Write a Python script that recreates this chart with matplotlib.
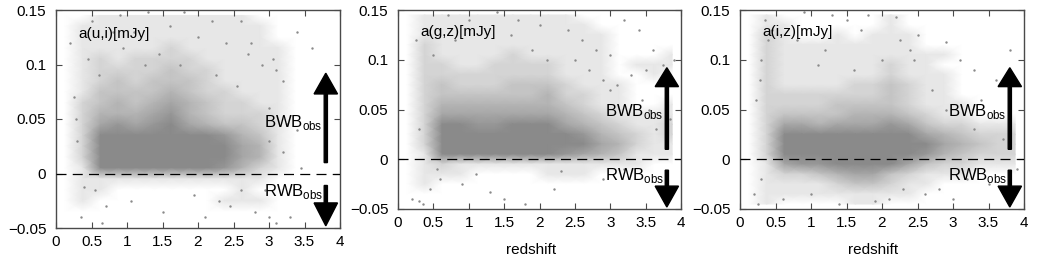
import numpy as np
import matplotlib
matplotlib.use("Agg")
import matplotlib.pyplot as plt
from matplotlib.colors import LinearSegmentedColormap, PowerNorm

plt.rcParams['font.family'] = ['Liberation Sans', 'DejaVu Sans']

# ---------------- data ----------------
# redshift bin centres and flux bin centres of the density grids
z_centers = [0.125, 0.375, 0.625, 0.875, 1.125, 1.375, 1.625, 1.875,
             2.125, 2.375, 2.625, 2.875, 3.125, 3.375, 3.625, 3.875]
flux_centers = [0.145, 0.135, 0.125, 0.115, 0.105, 0.095, 0.085, 0.075, 0.065, 0.055,
                0.045, 0.035, 0.025, 0.015, 0.005, -0.005, -0.015, -0.025, -0.035, -0.045]

# point density (0 = empty, 9 = saturated) for a(u,i)
density_ui = [
    [0,0,1,1,1,1,1,1,1,1,1,0,0,0,0,0],
    [0,1,1,1,1,1,1,1,1,1,1,1,0,0,0,0],
    [0,1,1,1,1,1,1,1,1,1,1,1,0,0,0,0],
    [0,1,1,1,1,1,2,1,1,1,1,1,1,0,0,0],
    [0,1,2,1,2,2,2,2,1,1,1,1,1,0,0,0],
    [0,1,2,2,2,2,3,2,2,1,1,1,1,0,0,0],
    [0,1,2,3,2,3,3,3,2,1,1,1,1,0,0,0],
    [0,1,3,3,3,3,4,3,2,2,1,1,1,0,0,0],
    [0,2,3,4,3,4,5,4,3,2,2,1,1,0,0,0],
    [0,2,4,4,4,5,6,4,3,2,2,2,1,0,0,0],
    [0,2,5,6,5,6,7,5,4,3,3,2,1,0,0,0],
    [0,2,7,8,8,8,8,8,7,6,4,3,1,0,0,0],
    [0,2,9,9,9,9,9,9,9,8,5,4,1,0,0,0],
    [0,2,9,9,9,9,9,9,9,8,5,4,1,0,0,0],
    [0,1,7,8,8,8,8,8,7,6,4,2,1,0,0,0],
    [0,1,1,1,1,1,1,1,1,1,1,1,0,0,0,0],
    [0,1,1,0,0,0,0,0,0,0,1,0,0,0,0,0],
    [0,1,0,0,0,0,0,0,0,1,1,1,0,0,0,0],
    [0,0,0,0,0,0,0,0,0,0,0,0,0,0,0,0],
    [0,0,0,0,0,0,0,0,0,0,0,0,0,0,0,0],
]

# point density for a(g,z)
density_gz = [
    [0,1,1,1,1,1,1,1,1,1,0,0,0,0,0,0],
    [0,1,1,1,1,1,1,1,1,1,1,0,0,0,0,0],
    [0,1,1,1,1,1,1,1,1,1,1,1,0,0,0,0],
    [0,2,1,1,1,1,1,1,1,1,1,1,0,0,0,0],
    [0,2,1,1,1,1,2,1,1,1,1,1,0,0,0,1],
    [0,2,2,1,1,2,2,2,2,1,1,1,0,1,1,1],
    [0,2,2,2,2,2,2,2,2,1,1,1,0,0,1,0],
    [0,2,3,2,2,2,3,3,3,2,1,1,1,0,0,0],
    [0,2,3,3,3,3,3,3,4,2,2,1,1,0,0,0],
    [0,2,4,4,4,4,4,4,4,3,2,1,1,0,0,1],
    [0,2,5,5,5,5,5,5,5,4,3,2,1,1,1,1],
    [0,2,7,7,6,6,7,7,7,5,4,3,2,1,1,2],
    [0,2,9,9,9,9,9,9,9,8,6,4,3,2,1,2],
    [0,2,9,9,9,9,9,9,9,8,7,5,4,2,1,1],
    [0,1,7,8,8,8,8,8,7,6,5,4,3,1,1,1],
    [0,1,2,1,1,1,1,1,1,1,1,1,1,1,0,0],
    [0,1,1,1,0,0,0,0,1,1,1,0,0,0,0,0],
    [0,1,0,0,0,0,0,0,0,0,0,0,0,0,0,0],
    [0,0,0,0,0,0,0,0,0,0,0,0,0,0,0,0],
    [0,0,0,0,0,0,0,0,0,0,0,0,0,0,0,0],
]

# point density for a(i,z)
density_iz = [
    [0,1,0,0,0,0,0,0,1,0,0,0,0,0,0,0],
    [0,1,1,0,0,0,0,0,1,0,0,0,0,0,0,0],
    [0,2,1,0,0,1,0,1,1,1,0,0,0,0,0,0],
    [0,2,1,1,1,1,1,1,1,1,0,0,0,0,0,0],
    [0,2,1,1,1,1,1,1,1,1,1,1,0,0,0,0],
    [0,2,1,1,1,1,1,1,2,1,1,0,0,0,0,0],
    [0,2,1,1,1,1,1,1,2,1,1,1,0,0,0,0],
    [0,2,1,1,1,1,2,2,3,2,1,1,0,0,0,0],
    [0,2,2,2,2,2,2,2,3,2,1,1,0,0,0,0],
    [0,2,2,2,2,3,3,3,3,2,1,1,1,0,0,0],
    [0,2,3,3,3,3,4,4,4,3,2,1,1,0,0,0],
    [0,2,5,5,4,5,5,5,6,5,3,2,2,1,1,1],
    [0,2,8,8,8,7,7,7,8,7,5,4,3,2,2,2],
    [0,2,9,9,9,9,9,9,9,9,7,5,4,3,2,2],
    [0,2,9,9,9,9,9,9,9,8,6,4,3,2,2,2],
    [0,1,5,6,6,7,8,8,7,5,3,2,2,1,1,1],
    [0,1,2,2,3,4,5,5,3,2,1,1,1,0,0,0],
    [0,1,1,1,1,2,3,3,2,1,1,0,0,0,0,0],
    [0,1,1,1,1,1,1,1,1,1,0,0,0,0,0,0],
    [0,1,0,0,0,0,1,1,0,0,0,0,0,0,0,0],
]

# isolated points in the sparse regions (redshift, flux)
outliers_ui_z = [0.2, 0.35, 0.65, 0.4, 0.55, 1.5, 2.3, 2.45, 2.8, 3.0, 3.3, 2.1, 3.4, 3.6,
                 3.2, 3.1, 3.0, 3.45, 3.2, 3.4, 3.0, 2.6, 2.2, 1.8, 1.3, 0.9, 0.5, 0.8,
                 1.1, 1.6, 2.0, 2.4, 2.75, 2.9, 3.05, 0.25, 0.3, 0.28, 0.7, 1.05, 1.95,
                 2.6, 2.95, 3.1, 0.45, 1.45, 1.75, 0.6, 2.25, 2.55, 3.25, 2.7, 1.25, 0.95]
outliers_ui_a = [0.12, -0.04, -0.045, -0.012, -0.015, -0.035, -0.025, -0.03, -0.035, -0.04,
                 -0.04, -0.04, 0.13, 0.115, 0.085, 0.095, 0.06, 0.005, 0.02, 0.04, 0.03,
                 0.14, 0.14, 0.148, 0.148, 0.145, 0.14, 0.13, 0.13, 0.135, 0.125, 0.12,
                 0.12, 0.1, 0.105, 0.07, 0.03, 0.05, -0.03, -0.025, -0.02, -0.015, -0.015,
                 -0.045, 0.105, 0.11, 0.1, 0.09, 0.09, 0.08, 0.045, 0.11, 0.1, 0.115]

outliers_gz_z = [0.2, 0.3, 0.35, 0.45, 0.6, 0.9, 1.3, 1.5, 1.8, 2.2, 0.25, 0.4, 0.7, 1.0,
                 1.4, 1.7, 2.0, 2.4, 2.6, 2.8, 3.0, 3.2, 3.4, 3.6, 3.75, 3.5, 3.3, 3.1,
                 2.9, 2.7, 3.45, 3.55, 3.9, 3.85, 0.3, 0.55, 1.1, 2.3, 2.9, 3.2, 0.5, 1.9,
                 2.5, 3.0, 3.65, 0.8, 1.6, 2.1]
outliers_gz_a = [-0.04, -0.042, -0.045, -0.03, -0.02, -0.025, -0.033, -0.04, -0.045, -0.03,
                 0.12, 0.13, 0.145, 0.14, 0.148, 0.14, 0.135, 0.13, 0.12, 0.11, 0.105,
                 0.14, 0.13, 0.11, 0.095, 0.09, 0.085, 0.075, 0.08, 0.09, 0.06, 0.05,
                 0.1, 0.04, 0.03, -0.01, -0.015, -0.012, -0.02, -0.01, 0.105, 0.11, 0.1,
                 0.07, 0.03, 0.12, 0.125, 0.1]

outliers_iz_z = [0.2, 0.25, 0.3, 0.35, 0.45, 0.9, 1.3, 1.5, 1.8, 2.2, 2.5, 2.9, 3.1, 3.3,
                 3.6, 3.8, 0.6, 1.0, 1.4, 1.9, 2.1, 2.3, 2.6, 2.8, 3.0, 3.2, 3.5, 3.9,
                 0.8, 1.2, 1.7, 2.0, 2.4, 2.7, 3.4, 0.3, 0.4, 1.6, 2.25, 2.45, 3.3, 3.7,
                 0.22, 0.28, 1.1, 2.9]
outliers_iz_a = [-0.035, -0.045, -0.02, 0.14, 0.13, 0.148, 0.145, 0.14, 0.145, 0.143, 0.125,
                 0.118, 0.1, 0.09, 0.08, 0.11, -0.04, -0.035, -0.045, -0.042, -0.04, -0.03,
                 -0.035, -0.03, -0.04, -0.02, -0.025, -0.01, 0.12, 0.11, 0.13, 0.1, 0.11,
                 0.07, 0.06, 0.1, 0.12, 0.09, 0.12, 0.1, 0.03, 0.02, 0.06, 0.08, 0.095, 0.05]

panel_labels = ['a(u,i)[mJy]', 'a(g,z)[mJy]', 'a(i,z)[mJy]']
x_ticks = [0, 0.5, 1, 1.5, 2, 2.5, 3, 3.5, 4]
x_ticklabels = ['0', '0.5', '1', '1.5', '2', '2.5', '3', '3.5', '4']
y_ticks = [-0.05, 0, 0.05, 0.1, 0.15]
y_ticklabels = ['\u22120.05', '0', '0.05', '0.1', '0.15']

# ---------------- figure ----------------
W, H = 1038, 256
fig = plt.figure(figsize=(W / 100, H / 100), dpi=100)

def px_axes(l, t, r, b):
    return fig.add_axes([l / W, 1 - b / H, (r - l) / W, (b - t) / H])

axes = [px_axes(56, 10, 340, 228), px_axes(398, 10, 681, 209), px_axes(740, 10, 1024, 209)]

grey = '#8a8a8a'
cmap = LinearSegmentedColormap.from_list('dens', ['#ffffff', grey])
frame_col = '#4a4a4a'

grids = [density_ui, density_gz, density_iz]
outs = [(outliers_ui_z, outliers_ui_a), (outliers_gz_z, outliers_gz_a), (outliers_iz_z, outliers_iz_a)]

for i, ax in enumerate(axes):
    ax.pcolormesh(z_centers, flux_centers, np.array(grids[i], dtype=float),
                  shading='gouraud', cmap=cmap,
                  norm=PowerNorm(gamma=0.8, vmin=0, vmax=7, clip=True), zorder=1)
    ax.scatter(outs[i][0], outs[i][1], s=3, c=grey, linewidths=0, zorder=2)
    ax.axhline(0, color='black', lw=0.9, linestyle=(0, (8, 5)), zorder=3)

    ax.set_xlim(0, 4)
    ax.set_ylim(-0.05, 0.15)
    ax.set_xticks(x_ticks)
    ax.set_xticklabels(x_ticklabels)
    ax.set_yticks(y_ticks)
    ax.set_yticklabels(y_ticklabels)
    ax.tick_params(direction='in', top=True, right=True, length=4, width=0.8,
                   color=frame_col, labelsize=11, pad=5)
    ax.tick_params(axis='y', pad=7)
    for sp in ax.spines.values():
        sp.set_color(frame_col)
        sp.set_linewidth(1.0)

    ax.text(0.31, 0.124, panel_labels[i], fontsize=11, ha='left', va='baseline', zorder=4)

    # BWB / RWB arrows and labels
    ax.arrow(3.8, 0.010, 0, 0.082, width=0.045, head_width=0.33, head_length=0.019,
             length_includes_head=True, color='black', zorder=5)
    ax.arrow(3.8, -0.011, 0, -0.037, width=0.045, head_width=0.33, head_length=0.021,
             length_includes_head=True, color='black', zorder=5)
    ax.text(2.93, 0.043, 'BWB$_\\mathregular{obs}$', fontsize=12, ha='left', va='baseline', zorder=4)
    ax.text(2.93, -0.021, 'RWB$_\\mathregular{obs}$', fontsize=12, ha='left', va='baseline', zorder=4)

for ax in axes[1:]:
    ax.set_xlabel('redshift', fontsize=11, labelpad=10)
    ax.xaxis.set_label_coords(0.47, -0.17)

fig.savefig('out.png', dpi=100)
